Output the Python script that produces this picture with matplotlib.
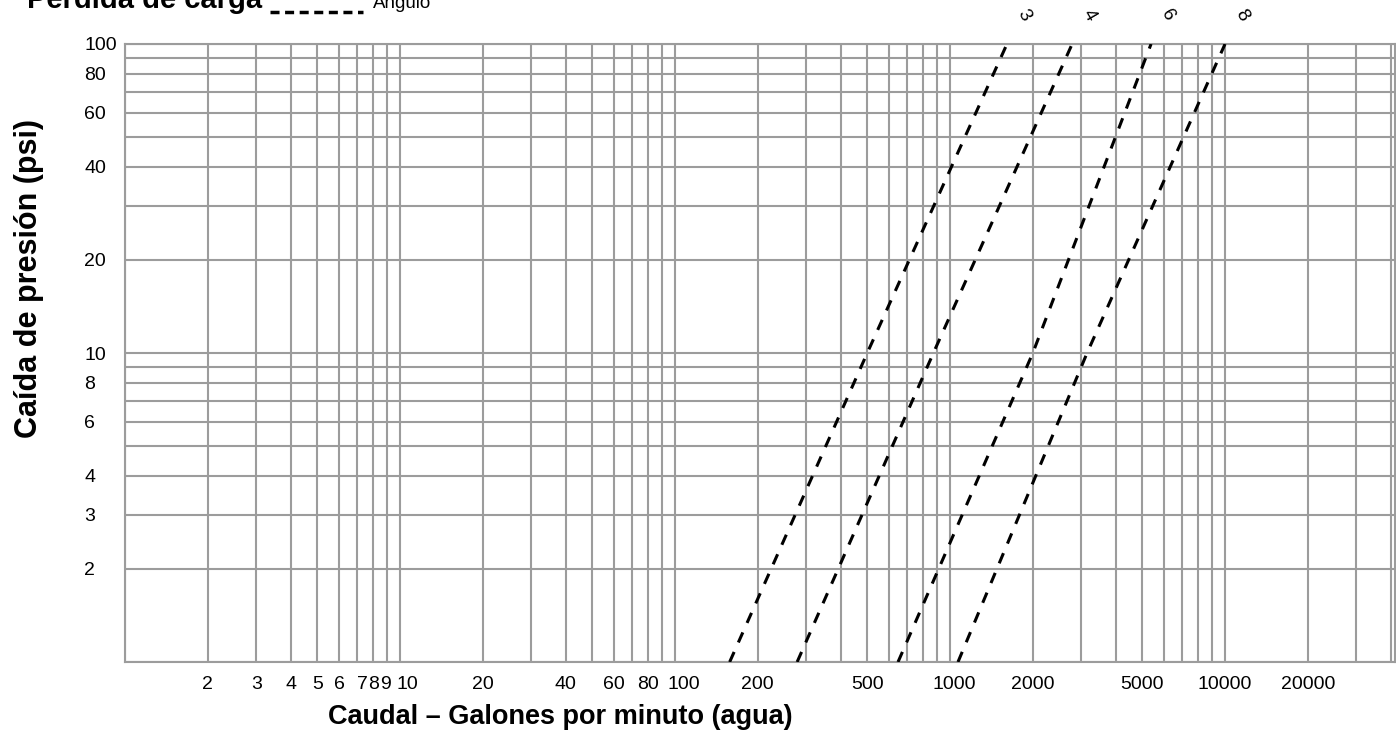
import matplotlib
matplotlib.use('Agg')
import matplotlib.pyplot as plt
from matplotlib.lines import Line2D
from matplotlib.ticker import FixedLocator, NullFormatter
from matplotlib.transforms import ScaledTranslation

plt.rcParams['font.family'] = ['Liberation Sans', 'DejaVu Sans']

# %%
# valores (caudal en gpm para cada caida de presion)
tamanos = ['3', '4', '6', '8']
caida_psi = [1, 10, 100]
caudal_3 = [158, 500, 1611]
caudal_4 = [278, 870, 2780]
caudal_6 = [647, 2000, 5383]
caudal_8 = [1069, 3150, 10000]

x_ticks = [2, 3, 4, 5, 6, 7, 8, 9, 10, 20, 40, 60, 80, 100, 200, 500,
           1000, 2000, 5000, 10000, 20000]
y_ticks = [2, 3, 4, 6, 8, 10, 20, 40, 60, 80, 100]

# lineas de la rejilla (1..9 en cada decada)
x_grid = [m * 10 ** d for d in range(0, 5) for m in range(1, 10) if m * 10 ** d <= 40000]
y_grid = [m * 10 ** d for d in range(0, 2) for m in range(1, 10)] + [100]

# %%
W, H = 1396, 732
fig = plt.figure(figsize=(W / 100, H / 100), dpi=100)
ax = fig.add_axes([125 / W, 70 / H, 1270 / W, 618 / H])
ax.set_xscale('log')
ax.set_yscale('log')
ax.set_xlim(1, 41500)
ax.set_ylim(1, 100)

gris = '#9c9c9c'
for gx in x_grid:
    ax.axvline(gx, color=gris, lw=1.5, zorder=1)
for gy in y_grid:
    ax.axhline(gy, color=gris, lw=1.5, zorder=1)
for s in ax.spines.values():
    s.set_color(gris)
    s.set_linewidth(1.5)

# curvas de perdida de carga (angulo)
caudales = [caudal_3, caudal_4, caudal_6, caudal_8]
for nombre, q in zip(tamanos, caudales):
    ax.plot(q, caida_psi, color='black', lw=2.2, linestyle=(0, (3.6, 3.4)), zorder=3)
    ax.annotate(nombre, xy=(q[-1], caida_psi[-1]), xytext=(12, 21),
                textcoords='offset points', ha='center', va='center',
                rotation=-60, fontsize=13.5, annotation_clip=False)

# ticks
ax.xaxis.set_major_locator(FixedLocator(x_ticks))
ax.xaxis.set_minor_locator(FixedLocator([]))
ax.set_xticklabels([str(v) for v in x_ticks])
ax.yaxis.set_major_locator(FixedLocator(y_ticks))
ax.yaxis.set_minor_locator(FixedLocator([]))
ax.yaxis.set_minor_formatter(NullFormatter())
ax.set_yticklabels([str(v) for v in y_ticks])
ax.tick_params(axis='x', length=0, pad=10, labelsize=14)
ax.tick_params(axis='y', length=0, pad=29.5, labelsize=14)
for lab in ax.get_yticklabels():
    lab.set_horizontalalignment('left')

# pequeños corrimientos de etiquetas como en el original
corrimiento = {'7': 5, '9': -2, '10': 7, '100': 9, '1000': 4}
for lab in ax.get_xticklabels():
    dx = corrimiento.get(lab.get_text(), 0)
    if dx:
        lab.set_transform(lab.get_transform() + ScaledTranslation(dx / 100, 0, fig.dpi_scale_trans))

# etiquetas de los ejes
ax.set_xlabel('Caudal – Galones por minuto (agua)', fontsize=19.5, fontweight='bold')
ax.xaxis.set_label_coords(0.343, -0.068)
ax.set_ylabel('Caída de presión (psi)', fontsize=22, fontweight='bold')
ax.yaxis.set_label_coords(-0.064, 0.621)

# titulo con leyenda
fig.text(27 / W, 1 - 8 / H, 'Pérdida de carga', fontsize=21, fontweight='bold',
         ha='left', va='baseline')
fig.add_artist(Line2D([270 / W, 363 / W], [1 - 12 / H, 1 - 12 / H],
                      transform=fig.transFigure, color='black', lw=2.5,
                      linestyle=(0, (2.6, 1.6))))
fig.text(373 / W, 1 - 8 / H, 'Angulo', fontsize=13.5, ha='left', va='baseline')

fig.savefig('out.png', dpi=100)
